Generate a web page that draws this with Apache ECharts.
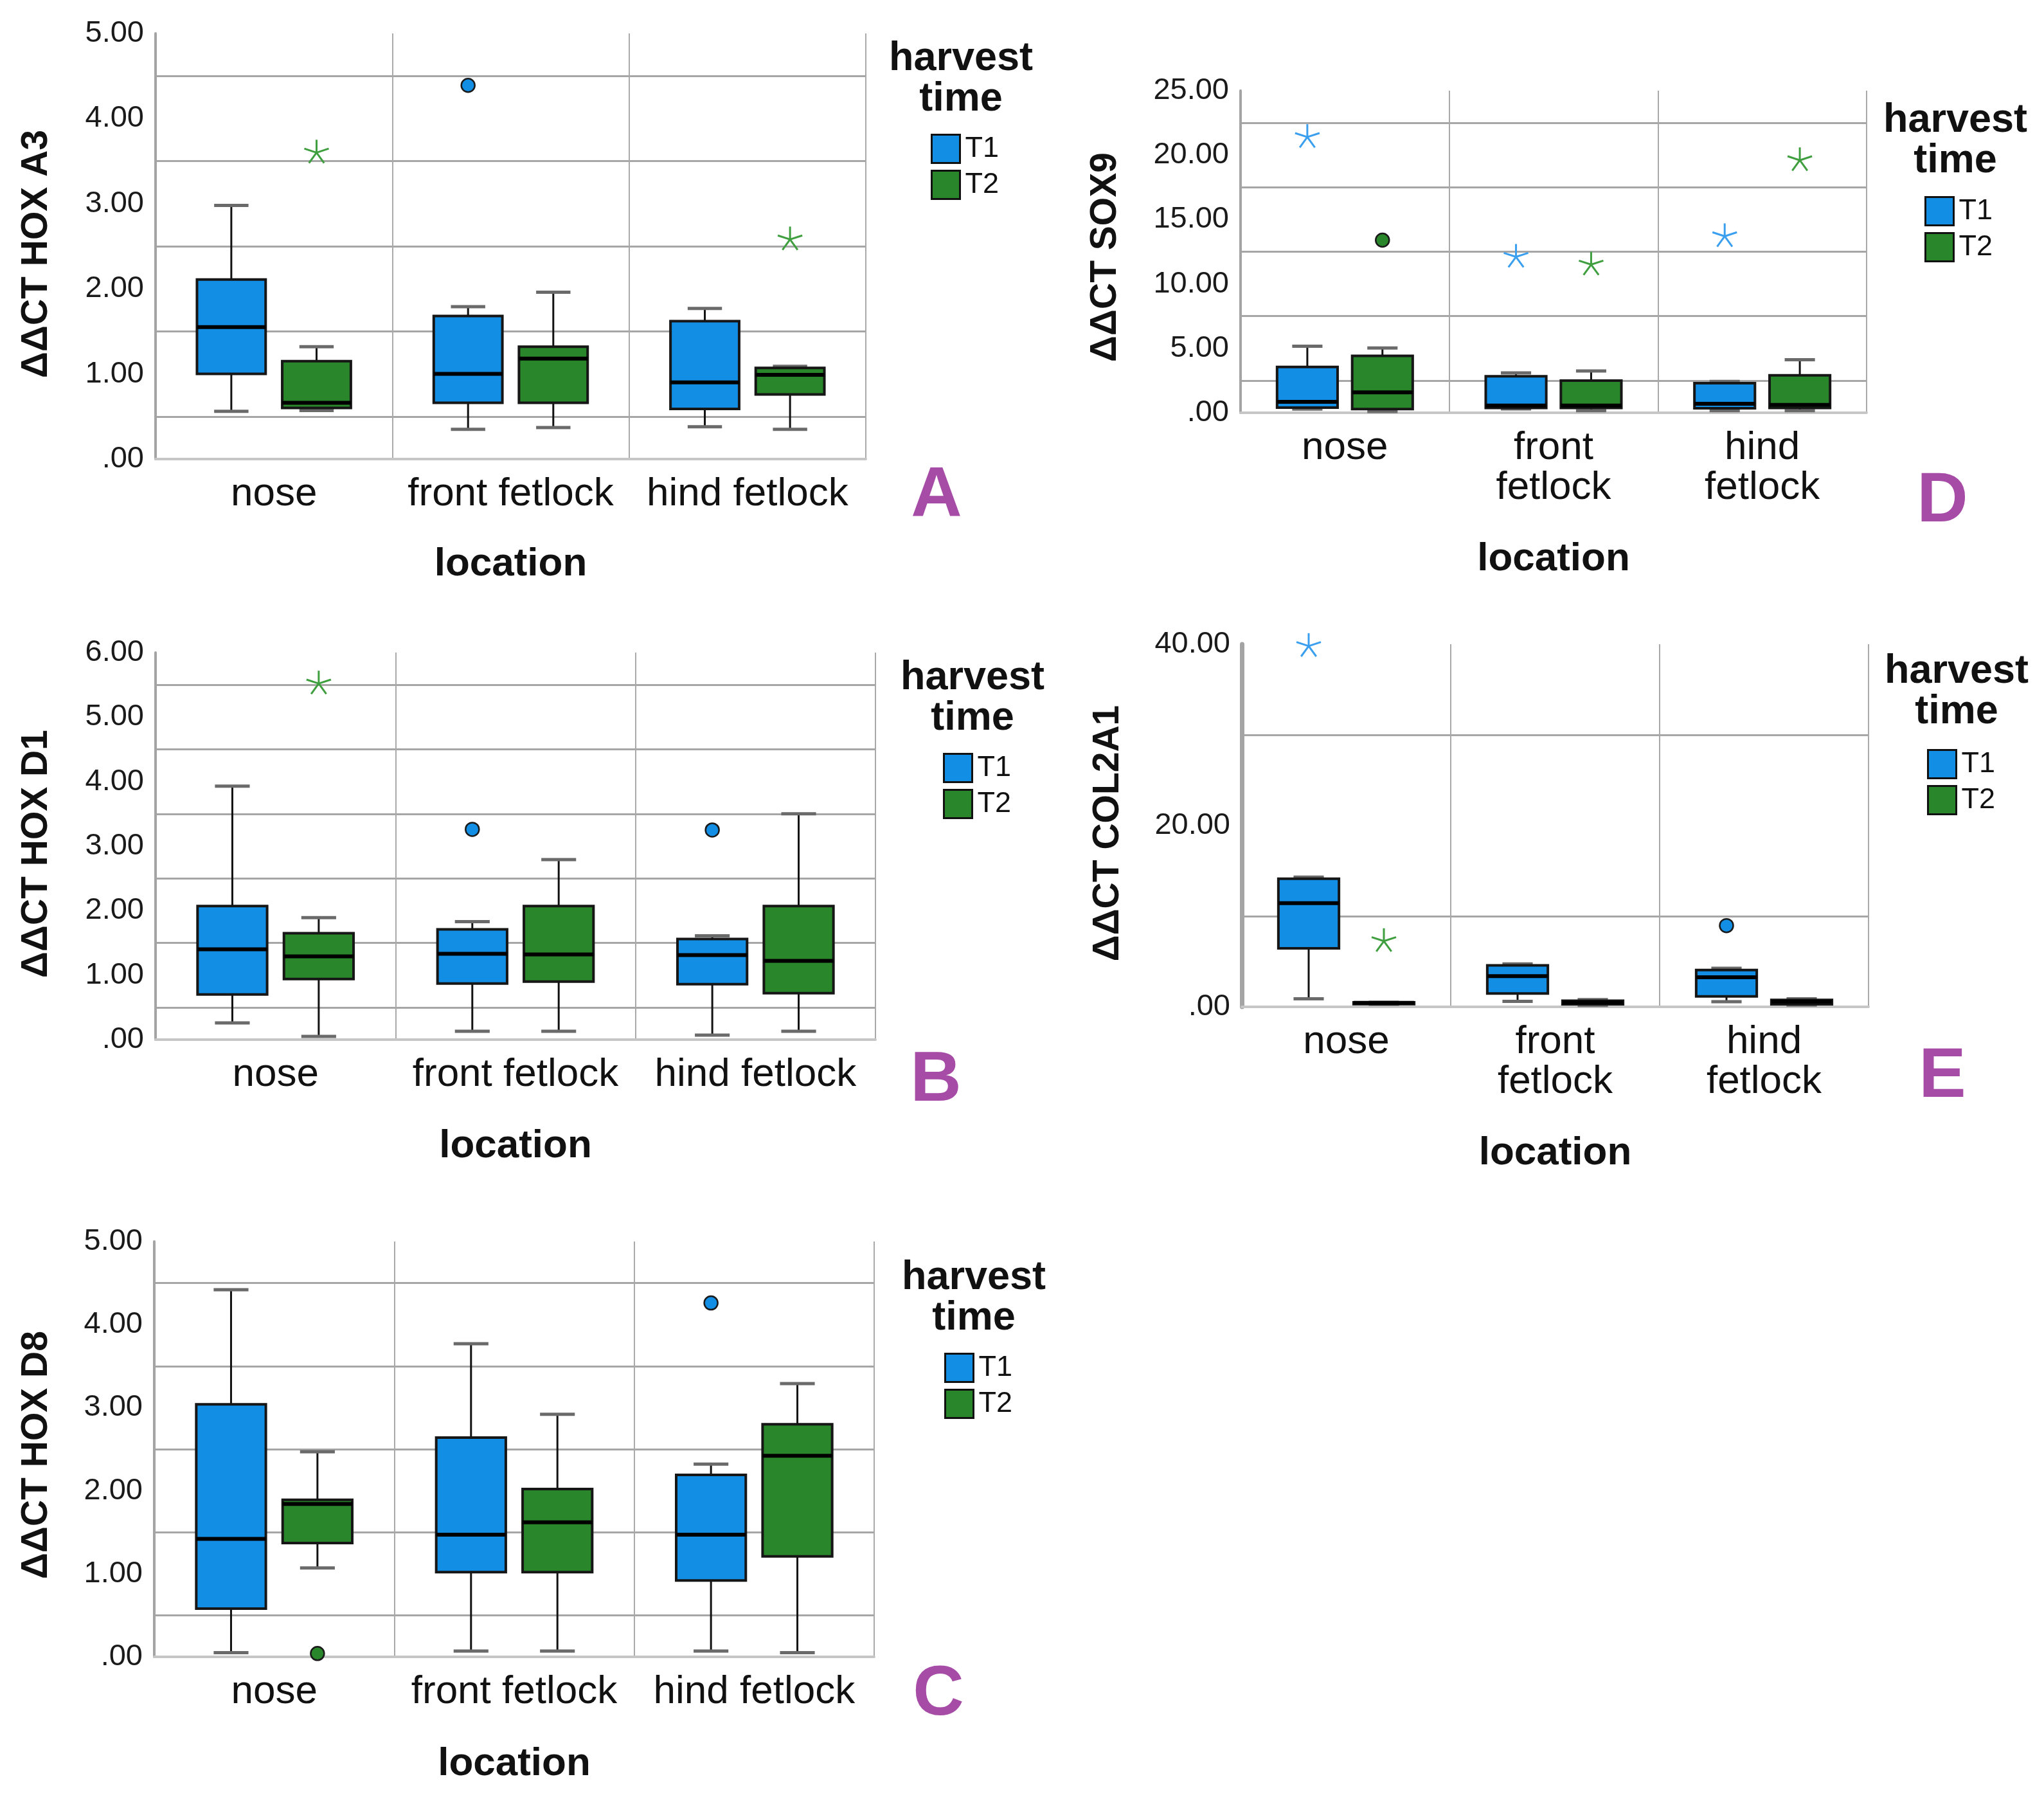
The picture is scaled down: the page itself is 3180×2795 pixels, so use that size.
<!DOCTYPE html>
<html><head><meta charset="utf-8">
<script src="https://cdn.jsdelivr.net/npm/echarts@6/dist/echarts.min.js"></script>
<style>html,body{margin:0;padding:0;background:#fff}#c{width:3180px;height:2795px}</style>
</head><body><div id="c"></div>
<script>
// ---------- DATA ----------
const categories = ['nose', 'front fetlock', 'hind fetlock'];
const harvestTimes = ['T1', 'T2'];
// five-number summaries per location: [lower whisker, Q1, median, Q3, upper whisker]
// outliers (circles) / extremes (stars): [location index, value]

// A: HOX A3
const hoxA3TickValues = [0, 1, 2, 3, 4, 5];
const hoxA3_T1 = [[0.56, 1.00, 1.55, 2.11, 2.98], [0.35, 0.66, 1.00, 1.68, 1.79], [0.38, 0.59, 0.90, 1.62, 1.77]];
const hoxA3_T2 = [[0.57, 0.60, 0.66, 1.15, 1.32], [0.37, 0.66, 1.18, 1.32, 1.96], [0.35, 0.76, 0.99, 1.07, 1.09]];
const hoxA3_T1_outliers = [[1, 4.39]];
const hoxA3_T2_outliers = [];
const hoxA3_T1_extremes = [];
const hoxA3_T2_extremes = [[0, 3.60], [2, 2.58]];

// B: HOX D1
const hoxD1TickValues = [0, 1, 2, 3, 4, 5, 6];
const hoxD1_T1 = [[0.26, 0.70, 1.40, 2.07, 3.93], [0.13, 0.87, 1.33, 1.71, 1.83], [0.07, 0.86, 1.31, 1.56, 1.61]];
const hoxD1_T2 = [[0.05, 0.94, 1.29, 1.65, 1.89], [0.13, 0.90, 1.32, 2.07, 2.79], [0.13, 0.72, 1.22, 2.07, 3.50]];
const hoxD1_T1_outliers = [[1, 3.26], [2, 3.25]];
const hoxD1_T2_outliers = [];
const hoxD1_T1_extremes = [];
const hoxD1_T2_extremes = [[0, 5.52]];

// C: HOX D8
const hoxD8TickValues = [0, 1, 2, 3, 4, 5];
const hoxD8_T1 = [[0.05, 0.58, 1.42, 3.04, 4.42], [0.07, 1.02, 1.47, 2.64, 3.77], [0.07, 0.92, 1.47, 2.19, 2.32]];
const hoxD8_T2 = [[1.07, 1.37, 1.84, 1.89, 2.47], [0.07, 1.02, 1.62, 2.02, 2.92], [0.05, 1.21, 2.42, 2.80, 3.29]];
const hoxD8_T1_outliers = [[2, 4.26]];
const hoxD8_T2_outliers = [[0, 0.04]];
const hoxD8_T1_extremes = [];
const hoxD8_T2_extremes = [];

// D: SOX9
const sox9TickValues = [0, 5, 10, 15, 20, 25];
const sox9_T1 = [[0.29, 0.40, 0.85, 3.56, 5.16], [0.30, 0.37, 0.56, 2.83, 3.10], [0.16, 0.35, 0.70, 2.30, 2.43]];
const sox9_T2 = [[0.10, 0.29, 1.58, 4.41, 5.03], [0.16, 0.37, 0.56, 2.49, 3.24], [0.16, 0.37, 0.61, 2.91, 4.12]];
const sox9_T1_outliers = [];
const sox9_T2_outliers = [[0, 13.4]];
const sox9_T1_extremes = [[0, 21.4], [1, 12.1], [2, 13.7]];
const sox9_T2_extremes = [[1, 11.5], [2, 19.6]];

// E: COL2A1
const col2a1TickValues = [0, 20, 40];
const col2a1_T1 = [[0.88, 6.45, 11.43, 14.14, 14.30], [0.60, 1.47, 3.39, 4.58, 4.74], [0.56, 1.16, 3.27, 4.06, 4.26]];
const col2a1_T2 = [[0.28, 0.30, 0.44, 0.50, 0.50], [0.16, 0.28, 0.48, 0.68, 0.80], [0.20, 0.28, 0.56, 0.76, 0.88]];
const col2a1_T1_outliers = [[2, 8.96]];
const col2a1_T2_outliers = [];
const col2a1_T1_extremes = [[0, 39.8]];
const col2a1_T2_extremes = [[0, 7.25]];

// ---------- STYLE / LAYOUT ----------
const FONT = '"Liberation Sans", Arial, sans-serif';
const FILL = { T1: '#128ee5', T2: '#2a862a' };
const STAR = { T1: '#3a9fee', T2: '#3f9f3f' };
const BOX_OFFSET = 0.18, BOX_WIDTH = 0.29;

const panels = [
  { letter: 'A', yName: 'ΔΔCT HOX A3', ticks: hoxA3TickValues, t1: hoxA3_T1, t2: hoxA3_T2,
    o1: hoxA3_T1_outliers, o2: hoxA3_T2_outliers, e1: hoxA3_T1_extremes, e2: hoxA3_T2_extremes,
    L: { left: 242, top: 52, width: 1105, height: 662, nameX: 57, nameY: 395, gapX: 133, legLeft: 1443, legTop: 203,
         titleX: 1495, titleY: 60, letterX: 1457, letterY: 772, axisW: 4, wrap: false } },
  { letter: 'B', yName: 'ΔΔCT HOX D1', ticks: hoxD1TickValues, t1: hoxD1_T1, t2: hoxD1_T2,
    o1: hoxD1_T1_outliers, o2: hoxD1_T2_outliers, e1: hoxD1_T1_extremes, e2: hoxD1_T2_extremes,
    L: { left: 242, top: 1015, width: 1120, height: 602, nameX: 57, nameY: 1328, gapX: 135, legLeft: 1462, legTop: 1166,
         titleX: 1513, titleY: 1023, letterX: 1456, letterY: 1682, axisW: 4, wrap: false } },
  { letter: 'C', yName: 'ΔΔCT HOX D8', ticks: hoxD8TickValues, t1: hoxD8_T1, t2: hoxD8_T2,
    o1: hoxD8_T1_outliers, o2: hoxD8_T2_outliers, e1: hoxD8_T1_extremes, e2: hoxD8_T2_extremes,
    L: { left: 240, top: 1931, width: 1120, height: 646, nameX: 57, nameY: 2263, gapX: 136, legLeft: 1464, legTop: 2099,
         titleX: 1515, titleY: 1956, letterX: 1460, letterY: 2637, axisW: 4, wrap: false } },
  { letter: 'D', yName: 'ΔΔCT SOX9', ticks: sox9TickValues, t1: sox9_T1, t2: sox9_T2,
    o1: sox9_T1_outliers, o2: sox9_T2_outliers, e1: sox9_T1_extremes, e2: sox9_T2_extremes,
    L: { left: 1930, top: 141, width: 974, height: 501, nameX: 1720, nameY: 400, gapX: 197, legLeft: 2989, legTop: 300,
         titleX: 3042, titleY: 156, letterX: 3022, letterY: 781, axisW: 4, wrap: true } },
  { letter: 'E', yName: 'ΔΔCT COL2A1', ticks: col2a1TickValues, t1: col2a1_T1, t2: col2a1_T2,
    o1: col2a1_T1_outliers, o2: col2a1_T2_outliers, e1: col2a1_T1_extremes, e2: col2a1_T2_extremes,
    L: { left: 1932, top: 1002, width: 975, height: 564, nameX: 1724, nameY: 1296, gapX: 197, legLeft: 2993, legTop: 1160,
         titleX: 3044, titleY: 1013, letterX: 3022, letterY: 1676, axisW: 7, wrap: true } }
];

function boxRenderer(sign, fill) {
  return function (params, api) {
    const cat = api.value(0);
    const band = api.size([1, 0])[0];
    const cx = api.coord([cat, 0])[0] + sign * BOX_OFFSET * band;
    const w = BOX_WIDTH * band;
    const cap = w * 0.5;
    const ys = [1, 2, 3, 4, 5].map(k => api.coord([cat, api.value(k)])[1]);
    const yLo = ys[0], yQ1 = ys[1], yMed = ys[2], yQ3 = ys[3], yHi = ys[4];
    return { type: 'group', children: [
      { type: 'line', shape: { x1: cx, y1: yQ1, x2: cx, y2: yLo }, style: { stroke: '#111', lineWidth: 3 } },
      { type: 'line', shape: { x1: cx, y1: yQ3, x2: cx, y2: yHi }, style: { stroke: '#111', lineWidth: 3 } },
      { type: 'line', shape: { x1: cx - cap / 2, y1: yLo, x2: cx + cap / 2, y2: yLo }, style: { stroke: '#6a6a6a', lineWidth: 5 } },
      { type: 'line', shape: { x1: cx - cap / 2, y1: yHi, x2: cx + cap / 2, y2: yHi }, style: { stroke: '#6a6a6a', lineWidth: 5 } },
      { type: 'rect', shape: { x: cx - w / 2, y: yQ3, width: w, height: Math.max(yQ1 - yQ3, 0.5) }, style: { fill: fill, stroke: '#161616', lineWidth: 4 } },
      { type: 'line', shape: { x1: cx - w / 2, y1: yMed, x2: cx + w / 2, y2: yMed }, style: { stroke: '#000', lineWidth: 6 } }
    ] };
  };
}
function circleRenderer(sign, fill) {
  return function (params, api) {
    const cat = api.value(0);
    const band = api.size([1, 0])[0];
    const p = api.coord([cat, api.value(1)]);
    return { type: 'circle', shape: { cx: p[0] + sign * BOX_OFFSET * band, cy: p[1], r: 10.5 },
             style: { fill: fill, stroke: '#1a1a1a', lineWidth: 2.5 } };
  };
}
function starRenderer(sign, color) {
  return function (params, api) {
    const cat = api.value(0);
    const band = api.size([1, 0])[0];
    const p = api.coord([cat, api.value(1)]);
    const cx = p[0] + sign * BOX_OFFSET * band, cy = p[1];
    const R = 20;
    const children = [];
    for (let k = 0; k < 5; k++) {
      const a = -Math.PI / 2 + k * 2 * Math.PI / 5;
      children.push({ type: 'line', shape: { x1: cx, y1: cy, x2: cx + R * Math.cos(a), y2: cy + R * Math.sin(a) },
                      style: { stroke: color, lineWidth: 3 } });
    }
    return { type: 'group', children: children };
  };
}

const grid = [], xAxis = [], yAxis = [], series = [], legend = [], graphic = [];
panels.forEach((p, gi) => {
  const L = p.L;
  const tickStep = p.ticks[1] - p.ticks[0];
  grid.push({ left: L.left, top: L.top, width: L.width, height: L.height, containLabel: false });
  xAxis.push({
    type: 'category', gridIndex: gi, data: categories, boundaryGap: true,
    axisLine: { show: true, lineStyle: { color: '#c6c6c6', width: 4 } },
    axisTick: { show: false },
    splitLine: { show: true, interval: 0, lineStyle: { color: '#a9a9a9', width: 2 } },
    axisLabel: { interval: 0, margin: 24, fontSize: 62, lineHeight: 62, color: '#111', fontFamily: FONT,
                 formatter: v => L.wrap ? v.replace(' ', '\n') : v },
    name: 'location', nameLocation: 'middle', nameGap: L.gapX,
    nameTextStyle: { fontSize: 62, fontWeight: 'bold', color: '#111', fontFamily: FONT }
  });
  yAxis.push({
    type: 'value', gridIndex: gi, min: 0, max: p.ticks[p.ticks.length - 1], interval: tickStep / 2,
    axisLine: { show: true, lineStyle: { color: '#a4a4a4', width: L.axisW } },
    axisTick: { show: false },
    splitLine: { show: true, lineStyle: { color: ['rgba(0,0,0,0)', '#a6a6a6'], width: 3 } },
    axisLabel: { margin: 18, fontSize: 47, color: '#1a1a1a', fontFamily: FONT,
                 formatter: v => p.ticks.indexOf(v) >= 0 ? (v === 0 ? '.00' : v.toFixed(2)) : '' }
  });
  [[p.t1, -1, 'T1'], [p.t2, 1, 'T2']].forEach(([arr, sign, name]) => {
    series.push({ type: 'custom', name: name, xAxisIndex: gi, yAxisIndex: gi, z: 3,
      itemStyle: { color: FILL[name] }, renderItem: boxRenderer(sign, FILL[name]),
      encode: { x: 0, y: [1, 2, 3, 4, 5] }, data: arr.map((d, i) => [i].concat(d)) });
  });
  [[p.o1, -1, 'T1'], [p.o2, 1, 'T2']].forEach(([arr, sign, name]) => {
    series.push({ type: 'custom', name: name, xAxisIndex: gi, yAxisIndex: gi, z: 4,
      itemStyle: { color: FILL[name] }, renderItem: circleRenderer(sign, FILL[name]),
      encode: { x: 0, y: 1 }, data: arr });
  });
  [[p.e1, -1, 'T1'], [p.e2, 1, 'T2']].forEach(([arr, sign, name]) => {
    series.push({ type: 'custom', name: name, xAxisIndex: gi, yAxisIndex: gi, z: 4,
      itemStyle: { color: FILL[name] }, renderItem: starRenderer(sign, STAR[name]),
      encode: { x: 0, y: 1 }, data: arr });
  });
  legend.push({
    orient: 'vertical', left: L.legLeft, top: L.legTop, itemWidth: 44, itemHeight: 44, itemGap: 9,
    icon: 'rect', data: harvestTimes, selectedMode: false,
    itemStyle: { borderColor: '#111', borderWidth: 3 },
    textStyle: { fontSize: 45, lineHeight: 44, color: '#111', fontFamily: FONT, padding: [0, 0, 0, 3] }
  });
  graphic.push({
    type: 'text', x: L.nameX, y: L.nameY, rotation: Math.PI / 2,
    style: { text: p.yName, fill: '#111', fontSize: 57, fontWeight: 'bold', fontFamily: FONT,
             align: 'center', textAlign: 'center', verticalAlign: 'middle', textVerticalAlign: 'middle' }
  });
  graphic.push({
    type: 'text', x: L.titleX, y: L.titleY,
    style: { text: 'harvest\ntime', fill: '#111', fontSize: 63, fontWeight: 'bold', fontFamily: FONT,
             lineHeight: 63, align: 'center', textAlign: 'center', verticalAlign: 'top', textVerticalAlign: 'top' }
  });
  graphic.push({
    type: 'text', x: L.letterX, y: L.letterY,
    style: { text: p.letter, fill: '#a64ca6', fontSize: 110, fontWeight: 'bold', fontFamily: FONT,
             align: 'center', textAlign: 'center', verticalAlign: 'middle', textVerticalAlign: 'middle' }
  });
});

const chart = echarts.init(document.getElementById('c'), null, { renderer: 'canvas' });
chart.setOption({ backgroundColor: '#fff', animation: false, grid, xAxis, yAxis, series, legend, graphic });
</script></body></html>
